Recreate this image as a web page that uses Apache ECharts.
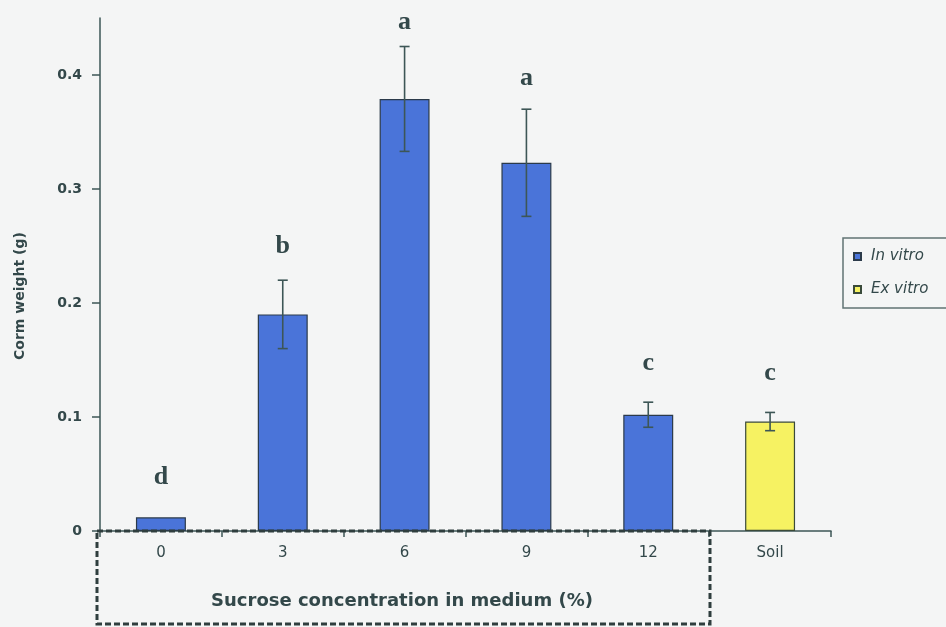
<!DOCTYPE html>
<html>
<head>
<meta charset="utf-8">
<script src="https://cdn.jsdelivr.net/npm/echarts@6/dist/echarts.min.js"></script>
<style>
  html, body { margin: 0; padding: 0; background: #f4f5f5; }
  #chart { width: 946px; height: 627px; }
</style>
</head>
<body>
<div id="chart"></div>
<script>
// Sucrose concentration categories (last one is the soil-grown control)
const categories = ['0', '3', '6', '9', '12', 'Soil'];
// Mean corm weight (g)
const inVitro = [0.012, 0.190, 0.379, 0.323, 0.102, null];
const exVitro = [null, null, null, null, null, 0.096];
// Standard error for each mean
const stdErr = [0, 0.030, 0.046, 0.047, 0.011, 0.008];
// Significance letters and the value level each letter is centred at
const letters = ['d', 'b', 'a', 'a', 'c', 'c'];
const letterLevel = [0.047, 0.250, 0.446, 0.397, 0.147, 0.138];
// Y axis ticks
const yTicks = [0, 0.1, 0.2, 0.3, 0.4];

const means = categories.map((c, i) => inVitro[i] != null ? inVitro[i] : exVitro[i]);
const axisColor = '#3d5656';
const textColor = '#33484a';
const sans = 'DejaVu Sans, Arial, sans-serif';

const chart = echarts.init(document.getElementById('chart'));
chart.setOption({
  backgroundColor: '#f4f5f5',
  animation: false,
  grid: { left: 100, right: 115, top: 18, bottom: 96 },
  legend: {
    left: 843, top: 238,
    orient: 'vertical',
    data: ['In vitro', 'Ex vitro'],
    icon: 'rect', itemWidth: 7, itemHeight: 7, itemGap: 18,
    padding: [11, 30, 11, 10],
    borderColor: '#607373', borderWidth: 1.5,
    textStyle: { fontFamily: sans, fontStyle: 'italic', fontSize: 15, color: textColor, padding: [0, 0, 0, 5] }
  },
  xAxis: {
    type: 'category',
    data: categories,
    axisLine: { lineStyle: { color: axisColor, width: 1.5 } },
    axisTick: { show: true, length: 6, lineStyle: { color: axisColor, width: 1.5 } },
    axisLabel: { fontFamily: sans, fontSize: 15, color: textColor, margin: 15 }
  },
  yAxis: {
    type: 'value',
    min: 0, max: 0.45, interval: 0.1,
    splitLine: { show: false },
    axisLine: { show: true, lineStyle: { color: axisColor, width: 1.5 } },
    axisTick: { show: true, length: 8, lineStyle: { color: axisColor, width: 1.5 } },
    axisLabel: {
      fontFamily: sans, fontWeight: 'bold', fontSize: 14, color: textColor, margin: 18,
      showMaxLabel: false,
      formatter: v => yTicks.some(t => Math.abs(t - v) < 1e-9) ? String(+v.toFixed(1)) : ''
    }
  },
  graphic: [
    {
      // dashed frame around the sucrose treatments
      type: 'rect',
      shape: { x: 97, y: 531, width: 613, height: 93 },
      style: { fill: 'none', stroke: '#2f3e3e', lineWidth: 3, lineDash: [6, 3] },
      z: 10
    },
    {
      type: 'text',
      x: 402, y: 601,
      style: {
        text: 'Sucrose concentration in medium (%)',
        fontFamily: sans, fontWeight: 'bold', fontSize: 18, fill: textColor,
        align: 'center', verticalAlign: 'middle'
      }
    },
    {
      type: 'text',
      x: 20, y: 296,
      rotation: Math.PI / 2,
      style: {
        text: 'Corm weight (g)',
        fontFamily: sans, fontWeight: 'bold', fontSize: 14, fill: textColor,
        align: 'center', verticalAlign: 'middle'
      }
    }
  ],
  series: [
    {
      name: 'In vitro', type: 'bar', data: inVitro,
      barWidth: '41%', barGap: '-100%',
      itemStyle: { color: '#4a74d9', borderColor: '#2b3a4a', borderWidth: 1.2 }
    },
    {
      name: 'Ex vitro', type: 'bar', data: exVitro,
      barWidth: '41%',
      itemStyle: { color: '#f6f262', borderColor: '#3a4a3a', borderWidth: 1.2 }
    },
    {
      type: 'custom',
      name: 'error',
      data: categories.map((c, i) => [i, means[i] - stdErr[i], means[i] + stdErr[i]]),
      z: 5,
      renderItem: (params, api) => {
        if (api.value(2) - api.value(1) <= 0) return null;
        const lo = api.coord([api.value(0), api.value(1)]);
        const hi = api.coord([api.value(0), api.value(2)]);
        const cap = 5;
        const st = { stroke: '#3d5656', lineWidth: 1.6 };
        return {
          type: 'group',
          children: [
            { type: 'line', shape: { x1: hi[0], y1: hi[1], x2: lo[0], y2: lo[1] }, style: st },
            { type: 'line', shape: { x1: hi[0] - cap, y1: hi[1], x2: hi[0] + cap, y2: hi[1] }, style: st },
            { type: 'line', shape: { x1: lo[0] - cap, y1: lo[1], x2: lo[0] + cap, y2: lo[1] }, style: st }
          ]
        };
      }
    },
    {
      type: 'custom',
      name: 'letters',
      data: categories.map((c, i) => [i, letterLevel[i]]),
      z: 6,
      renderItem: (params, api) => {
        const p = api.coord([api.value(0), api.value(1)]);
        return {
          type: 'text',
          x: p[0], y: p[1],
          style: {
            text: letters[params.dataIndex],
            fontFamily: 'Liberation Serif, Times New Roman, serif',
            fontWeight: 'bold', fontSize: 26, fill: '#33484a',
            align: 'center', verticalAlign: 'middle'
          }
        };
      }
    }
  ]
});
</script>
</body>
</html>
